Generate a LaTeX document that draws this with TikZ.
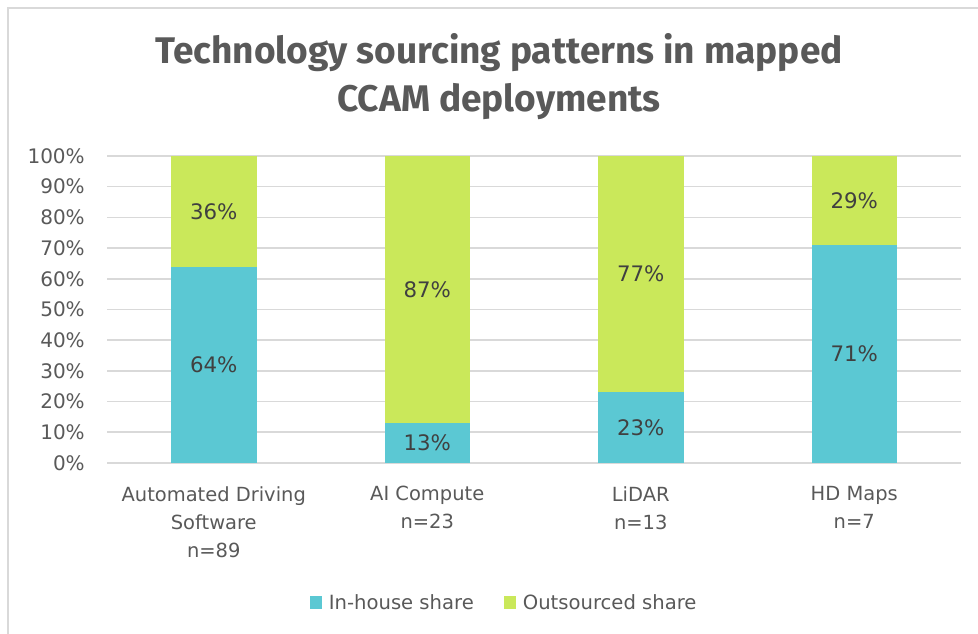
\documentclass[tikz,border=0pt]{standalone}
\usepackage{fontspec}
\setmainfont{DejaVu Sans}
\newfontfamily\titlefont{Fira Sans}
\usetikzlibrary{positioning}

\definecolor{inhouse}{HTML}{5BC8D3}
\definecolor{outsourced}{HTML}{CAE85A}
\definecolor{axisgray}{HTML}{595959}
\definecolor{labelgray}{HTML}{404040}
\definecolor{gridgray}{HTML}{D9D9D9}

\tikzset{
  gridline/.style={draw=gridgray, line width=1.2pt},
  ticklabel/.style={anchor=east, inner sep=0pt, text=axisgray, font=\fontsize{15}{18}\selectfont},
  datalabel/.style={inner sep=0pt, text=labelgray, font=\fontsize{16}{19}\selectfont},
  catlabel/.style={anchor=north, inner sep=0pt, align=center, text=axisgray, font=\fontsize{14.6}{21}\selectfont},
  keybox/.style={minimum size=9.5pt, inner sep=0pt},
  legtext/.style={inner sep=0pt, text=axisgray, font=\fontsize{14.7}{18}\selectfont},
  titletext/.style={anchor=base, inner sep=0pt, text=axisgray, font=\titlefont\bfseries\fontsize{27.8}{36}\selectfont}
}

\begin{document}
\begin{tikzpicture}[x=0.75pt, y=-0.75pt]
    \useasboundingbox (0,0) rectangle (978,634);
    % Chart frame
    \draw[gridgray, line width=1.1pt] (8,634) -- (8,8) -- (978,8);

    % Title
    \node[titletext] (title1) at (499,64) {Technology sourcing patterns in mapped};
    \node[titletext] (title2) at ([yshift=-35.5pt]title1.base) {CCAM deployments};

    % Gridlines and axis scale
    \foreach \p in {0,10,...,100} {
      \draw[gridline] (107,{463-3.07*\p}) -- (961,{463-3.07*\p});
      \node[ticklabel] (tick\p) at (85,{463-3.07*\p}) {\p\%};
    }

    % Stacked bars
    \foreach \i/\inh/\n/\cat in {1/64/89/{Automated Driving\\Software}, 2/13/23/{AI Compute}, 3/23/13/{LiDAR}, 4/71/7/{HD Maps}} {
      \pgfmathsetmacro\c{107+213.5*(\i-0.5)}
      \pgfmathtruncatemacro\outs{100-\inh}
      \fill[inhouse] (\c-42.75,463) rectangle (\c+42.75,{463-3.07*\inh});
      \fill[outsourced] (\c-42.75,{463-3.07*\inh}) rectangle (\c+42.75,156);

      % Segment values
      \node[datalabel] (in\i) at (\c,{463-3.07*\inh/2}) {\inh\%};
      \node[datalabel] (out\i) at (\c,{463-3.07*(100+\inh)/2}) {\outs\%};

      % Category name below the axis
      \node[catlabel] (cat\i) at (\c,486) {\cat\\n=\n};
    }

    % Legend
    \node[keybox, fill=inhouse] (keyin) at (316,602.5) {};
    \node[legtext, right=4.5pt of keyin] (legin) {In-house share};
    \node[keybox, fill=outsourced, right=22pt of legin] (keyout) {};
    \node[legtext, right=4.5pt of keyout] (legout) {Outsourced share};
\end{tikzpicture}
\end{document}
